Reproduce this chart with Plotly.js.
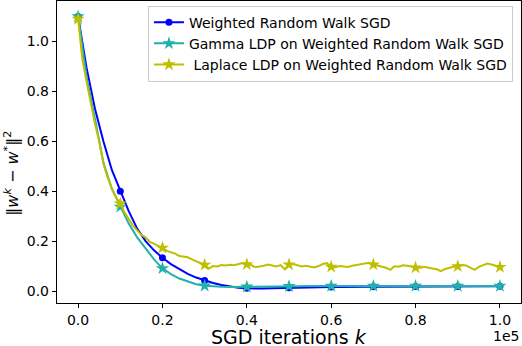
<!DOCTYPE html>
<html>
<head>
<meta charset="utf-8">
<script src="https://cdn.plot.ly/plotly-3.0.1.min.js"></script>
<style>
  html, body { margin: 0; padding: 0; background: #fff; }
  #plot { width: 522px; height: 346px; }
</style>
</head>
<body>
<div id="plot"></div>
<script>
// iterations, every 2000 for the smooth curves
var iterSmooth = [0, 2000, 4000, 6000, 8000, 10000, 12000, 14000, 16000, 18000,
  20000, 22000, 24000, 26000, 28000, 30000, 32000, 34000, 36000, 38000,
  40000, 42000, 44000, 46000, 48000, 50000, 52000, 54000, 56000, 58000,
  60000, 62000, 64000, 66000, 68000, 70000, 72000, 74000, 76000, 78000,
  80000, 82000, 84000, 86000, 88000, 90000, 92000, 94000, 96000, 98000, 100000];

var weightedRW = [1.10, 0.895, 0.73, 0.60, 0.485, 0.40, 0.32, 0.25, 0.20, 0.163,
  0.133, 0.108, 0.087, 0.069, 0.054, 0.042, 0.032, 0.024, 0.018, 0.013,
  0.011, 0.010, 0.010, 0.011, 0.012, 0.013, 0.014, 0.015, 0.015, 0.016,
  0.016, 0.016, 0.017, 0.017, 0.017, 0.017, 0.017, 0.017, 0.018, 0.018,
  0.018, 0.018, 0.018, 0.018, 0.018, 0.018, 0.018, 0.019, 0.019, 0.019, 0.019];

var gammaLDP = [1.10, 0.86, 0.69, 0.515, 0.41, 0.337, 0.27, 0.215, 0.17, 0.127,
  0.091, 0.068, 0.050, 0.037, 0.027, 0.021, 0.018, 0.017, 0.016, 0.016,
  0.017, 0.017, 0.018, 0.018, 0.019, 0.019, 0.019, 0.020, 0.020, 0.020,
  0.020, 0.020, 0.020, 0.020, 0.020, 0.020, 0.020, 0.020, 0.020, 0.020,
  0.020, 0.020, 0.020, 0.020, 0.020, 0.020, 0.020, 0.020, 0.020, 0.020, 0.020];

// iterations, every 1000 for the noisy Laplace curve
var iterNoisy = [0, 1000, 2000, 3000, 4000, 5000, 6000, 7000, 8000, 9000,
  10000, 11000, 12000, 13000, 14000, 15000, 16000, 17000, 18000, 19000,
  20000, 21000, 22000, 23000, 24000, 25000, 26000, 27000, 28000, 29000,
  30000, 31000, 32000, 33000, 34000, 35000, 36000, 37000, 38000, 39000,
  40000, 41000, 42000, 43000, 44000, 45000, 46000, 47000, 48000, 49000,
  50000, 51000, 52000, 53000, 54000, 55000, 56000, 57000, 58000, 59000,
  60000, 61000, 62000, 63000, 64000, 65000, 66000, 67000, 68000, 69000,
  70000, 71000, 72000, 73000, 74000, 75000, 76000, 77000, 78000, 79000,
  80000, 81000, 82000, 83000, 84000, 85000, 86000, 87000, 88000, 89000,
  90000, 91000, 92000, 93000, 94000, 95000, 96000, 97000, 98000, 99000, 100000];

var laplaceLDP = [1.09, 0.93, 0.84, 0.75, 0.67, 0.60, 0.51, 0.455, 0.41, 0.375,
  0.35, 0.315, 0.29, 0.262, 0.243, 0.225, 0.215, 0.197, 0.19, 0.18,
  0.173, 0.162, 0.155, 0.15, 0.14, 0.137, 0.135, 0.127, 0.12, 0.112,
  0.105, 0.09, 0.10, 0.098, 0.104, 0.102, 0.105, 0.103, 0.108, 0.112,
  0.107, 0.104, 0.095, 0.097, 0.101, 0.106, 0.103, 0.098, 0.104, 0.087,
  0.106, 0.108, 0.103, 0.098, 0.101, 0.099, 0.094, 0.10, 0.108, 0.112,
  0.097, 0.095, 0.10, 0.098, 0.096, 0.101, 0.104, 0.106, 0.11, 0.113,
  0.106, 0.102, 0.095, 0.093, 0.085, 0.099, 0.097, 0.103, 0.101, 0.098,
  0.094, 0.092, 0.097, 0.095, 0.09, 0.087, 0.08, 0.088, 0.094, 0.097,
  0.099, 0.104, 0.102, 0.094, 0.085, 0.097, 0.105, 0.11, 0.106, 0.102, 0.096];

var xTickVals = [0, 20000, 40000, 60000, 80000, 100000];
var xTickText = ['0.0', '0.2', '0.4', '0.6', '0.8', '1.0'];

var names = ['Weighted Random Walk SGD',
  'Gamma LDP on Weighted Random Walk SGD',
  '\u00a0Laplace LDP on Weighted Random Walk SGD'];

var font = 'DejaVu Sans, sans-serif';

// markers only every 10000 iterations, others transparent
function markEvery(xs, col) {
  return xs.map(function(x) { return x % 10000 === 0 ? col : 'rgba(0,0,0,0)'; });
}

function makeTrace(xs, ys, name, col, symbol, size) {
  return {
    x: xs, y: ys, name: name,
    type: 'scatter', mode: 'lines+markers',
    line: { color: col, width: 2 },
    marker: { symbol: symbol, size: size, color: markEvery(xs, col),
      line: { width: 0 } },
    hoverinfo: 'skip'
  };
}

var data = [
  makeTrace(iterSmooth, weightedRW, names[0], '#0000ff', 'circle', 7),
  makeTrace(iterSmooth, gammaLDP, names[1], '#20b2aa', 'star', 10),
  makeTrace(iterNoisy, laplaceLDP, names[2], '#bfbf00', 'star', 10)
];

var layout = {
  width: 522, height: 346,
  margin: { l: 57, r: 1, t: 1, b: 43, autoexpand: false },
  paper_bgcolor: '#fff', plot_bgcolor: '#fff',
  font: { family: font, size: 14, color: '#000' },
  showlegend: true,
  legend: {
    x: 0.196, y: 0.985, xanchor: 'left', yanchor: 'top',
    bgcolor: 'rgba(255,255,255,0.8)', bordercolor: '#cccccc', borderwidth: 1,
    font: { family: font, size: 14, color: '#000' }
  },
  xaxis: {
    range: [-5000, 105000],
    tickvals: xTickVals, ticktext: xTickText,
    tickfont: { family: font, size: 14 },
    showgrid: false, zeroline: false,
    showline: true, mirror: true, linecolor: '#000', linewidth: 1.2,
    ticks: 'outside', ticklen: 4, tickwidth: 1, tickcolor: '#000'
  },
  yaxis: {
    range: [-0.048, 1.162],
    dtick: 0.2, tick0: 0, tickformat: '.1f',
    tickfont: { family: font, size: 14 },
    showgrid: false, zeroline: false,
    showline: true, mirror: true, linecolor: '#000', linewidth: 1.2,
    ticks: 'outside', ticklen: 4, tickwidth: 1, tickcolor: '#000'
  },
  annotations: [
    { text: 'SGD iterations <i>k</i>', xref: 'paper', yref: 'paper',
      x: 0.499, y: -0.111, xanchor: 'center', yanchor: 'middle',
      showarrow: false, font: { family: font, size: 19 } },
    { text: '\u2016<i>w</i><sup><i>k</i></sup> \u2212 <i>w</i><sup>*</sup>\u2016<sup>2</sup>',
      xref: 'paper', yref: 'paper', x: -0.098, y: 0.43,
      xanchor: 'center', yanchor: 'middle', textangle: -90,
      showarrow: false, font: { family: font, size: 16 } },
    { text: '1e5', xref: 'paper', yref: 'paper', x: 1, y: -0.11,
      xanchor: 'right', yanchor: 'middle', showarrow: false,
      font: { family: font, size: 14 } }
  ]
};

Plotly.newPlot('plot', data, layout, { displayModeBar: false, staticPlot: true });
</script>
</body>
</html>
